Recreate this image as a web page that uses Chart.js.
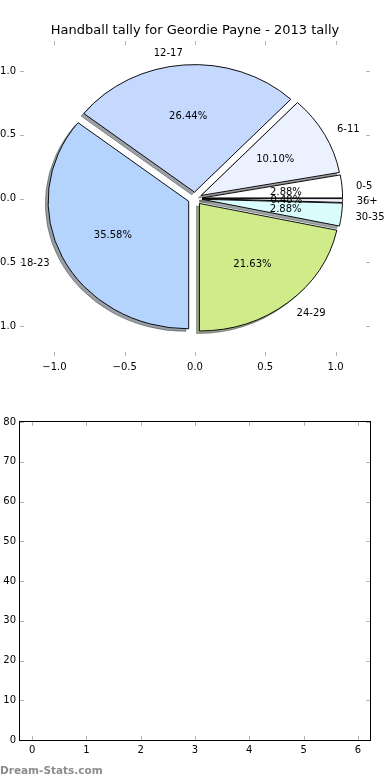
<!DOCTYPE html>
<html>
<head>
<meta charset="utf-8">
<script src="https://cdn.jsdelivr.net/npm/chart.js@4.4.0/dist/chart.umd.min.js"></script>
<style>
  html, body { margin: 0; padding: 0; background: #fff; }
  #wrap { position: relative; width: 390px; height: 780px; overflow: hidden; }
  #pieBox { position: absolute; left: 0; top: 0; width: 390px; height: 380px; }
  #emptyBox { position: absolute; left: 0; top: 380px; width: 390px; height: 400px; }
  #mark { position: absolute; left: 0; top: 764px; font: bold 10.5px "DejaVu Sans"; line-height: 12px; color: #8c8c8c; }
</style>
</head>
<body>
<div id="wrap">
  <div id="pieBox"><canvas id="pie"></canvas></div>
  <div id="emptyBox"><canvas id="empty"></canvas></div>
  <div id="mark">Dream-Stats.com</div>
</div>
<script>
// handballs per age group (matplotlib order: counter-clockwise from 3 o'clock)
const ageGroups = ['0-5', '6-11', '12-17', '18-23', '24-29', '30-35', '36+'];
const handballs = [6, 21, 55, 74, 45, 6, 1];
const sliceColors = ['#ffffff', '#ebf1fe', '#c5d9fe', '#b4d4fe', '#d0eb8a', '#d9fdfd', '#f2f2ff'];
const pieTicks = [-1.0, -0.5, 0.0, 0.5, 1.0];
const emptyXTicks = [0, 1, 2, 3, 4, 5, 6];
const emptyYTicks = [0, 10, 20, 30, 40, 50, 60, 70, 80];

const EXPLODE = 0.05, LABEL_DIST = 1.1, PCT_DIST = 0.6, SHADOW = 0.02;
const FONT = '"DejaVu Sans", sans-serif';

function shadowOf(hex) {
  const n = parseInt(hex.slice(1), 16);
  const r = (n >> 16) & 255, g = (n >> 8) & 255, b = n & 255;
  return 'rgba(' + Math.round(r * 0.3) + ',' + Math.round(g * 0.3) + ',' + Math.round(b * 0.3) + ',0.5)';
}

// pie is drawn squashed to the axes' data units, exploded, with a shadow under it
const explodedPie = {
  id: 'explodedPie',
  beforeDatasetsDraw(chart) {
    const {ctx, scales: {x, y}} = chart;
    const arcs = chart.getDatasetMeta(0).data;
    if (!arcs.length) return false;
    const R = arcs[0].outerRadius;
    const cx = x.getPixelForValue(0), cy = y.getPixelForValue(0);
    const rx = x.getPixelForValue(1) - cx, ry = cy - y.getPixelForValue(1);
    ctx.save();
    ctx.translate(cx, cy);
    ctx.scale(rx / R, ry / R);
    ctx.translate(-arcs[0].x, -arcs[0].y);
    arcs.forEach(arc => {
      const mid = (arc.startAngle + arc.endAngle) / 2;
      const sh = Object.create(arc);
      const c = shadowOf(arc.options.backgroundColor);
      sh.options = Object.assign({}, arc.options, {backgroundColor: c, borderColor: c});
      ctx.save();
      ctx.translate(Math.cos(mid) * EXPLODE * R - SHADOW * R, Math.sin(mid) * EXPLODE * R + SHADOW * R);
      sh.draw(ctx);
      ctx.restore();
    });
    arcs.forEach(arc => {
      const mid = (arc.startAngle + arc.endAngle) / 2;
      ctx.save();
      ctx.translate(Math.cos(mid) * EXPLODE * R, Math.sin(mid) * EXPLODE * R);
      arc.draw(ctx);
      ctx.restore();
    });
    ctx.restore();
    return false;
  },
  afterDraw(chart) {
    const {ctx, scales: {x, y}} = chart;
    const arcs = chart.getDatasetMeta(0).data;
    const cx = x.getPixelForValue(0), cy = y.getPixelForValue(0);
    const rx = x.getPixelForValue(1) - cx, ry = cy - y.getPixelForValue(1);
    const vals = chart.data.datasets[0].data;
    const total = vals.reduce((a, b) => a + b, 0);
    ctx.save();
    ctx.font = '10px ' + FONT;
    ctx.fillStyle = '#000';
    ctx.textBaseline = 'middle';
    arcs.forEach((arc, i) => {
      const mid = (arc.startAngle + arc.endAngle) / 2;
      const co = Math.cos(mid), si = Math.sin(mid);
      const ex = cx + EXPLODE * rx * co, ey = cy + EXPLODE * ry * si;
      const lx = ex + LABEL_DIST * rx * co, ly = ey + LABEL_DIST * ry * si;
      ctx.textAlign = lx > cx ? 'left' : 'right';
      ctx.fillText(chart.data.labels[i], lx, ly + 1);
      ctx.textAlign = 'center';
      ctx.fillText((vals[i] / total * 100).toFixed(2) + '%', ex + PCT_DIST * rx * co, ey + PCT_DIST * ry * si + 1);
    });
    ctx.restore();
  }
};

// matplotlib-style inward tick marks on all four sides, optional frame
function inwardTicks(frame) {
  return {
    id: 'inwardTicks',
    afterDraw(chart) {
      const {ctx, chartArea: a, scales: {x, y}} = chart;
      ctx.save();
      ctx.strokeStyle = '#b4b4b4';
      ctx.lineWidth = 1;
      ctx.beginPath();
      x.ticks.forEach(t => {
        const px = Math.round(x.getPixelForValue(t.value)) + 0.5;
        ctx.moveTo(px, a.top); ctx.lineTo(px, a.top + 4);
        ctx.moveTo(px, a.bottom); ctx.lineTo(px, a.bottom - 4);
      });
      y.ticks.forEach(t => {
        const py = Math.round(y.getPixelForValue(t.value)) + 0.5;
        ctx.moveTo(a.left, py); ctx.lineTo(a.left + 4, py);
        ctx.moveTo(a.right, py); ctx.lineTo(a.right - 4, py);
      });
      ctx.stroke();
      if (frame) {
        ctx.strokeStyle = '#000';
        ctx.strokeRect(Math.round(a.left) - 0.5, Math.round(a.top) - 0.5, Math.round(a.right - a.left) + 1, Math.round(a.bottom - a.top) + 1);
      }
      ctx.restore();
    }
  };
}

function axisOpts(min, max, tickVals, fmt, pad, fit) {
  return {
    type: 'linear', min: min, max: max,
    grid: {display: false, drawTicks: false},
    border: {display: false},
    ticks: {color: '#000', font: {family: FONT, size: 10}, padding: pad, callback: fmt},
    afterBuildTicks: s => { s.ticks = tickVals.map(v => ({value: v})); },
    afterFit: fit
  };
}

const piePct = v => (v < 0 ? '\u2212' : '') + Math.abs(v).toFixed(1);

new Chart(document.getElementById('pie'), {
  type: 'pie',
  data: {
    labels: ageGroups.slice().reverse(),
    datasets: [{
      data: handballs.slice().reverse(),
      backgroundColor: sliceColors.slice().reverse(),
      borderColor: '#000',
      borderWidth: 1.1,
      borderJoinStyle: 'miter',
      clip: false
    }]
  },
  options: {
    responsive: true,
    maintainAspectRatio: false,
    animation: false,
    rotation: 90,
    layout: {padding: {left: 0, right: 20, top: 0, bottom: 0}},
    plugins: {
      legend: {display: false},
      tooltip: {enabled: false},
      title: {
        display: true,
        fullSize: false,
        text: 'Handball tally for Geordie Payne - 2013 tally',
        color: '#000',
        font: {family: FONT, size: 13, weight: 'normal', lineHeight: 1.2},
        padding: {top: 22.5, bottom: 2.9}
      }
    },
    scales: {
      x: Object.assign(axisOpts(-1.245, 1.245, pieTicks, piePct, 5, s => { s.height = 24; }), {position: 'bottom'}),
      y: Object.assign(axisOpts(-1.235, 1.235, pieTicks, piePct, 4, s => { s.width = 20; }), {position: 'left'})
    }
  },
  plugins: [explodedPie, inwardTicks(false)]
});

new Chart(document.getElementById('empty'), {
  type: 'scatter',
  data: {datasets: [{data: []}]},
  options: {
    responsive: true,
    maintainAspectRatio: false,
    animation: false,
    layout: {padding: {left: 0, right: 20, top: 42, bottom: 0}},
    plugins: {legend: {display: false}, tooltip: {enabled: false}},
    scales: {
      x: Object.assign(axisOpts(-0.224, 6.224, emptyXTicks, v => String(v), 4, s => { s.height = 40; }), {position: 'bottom'}),
      y: Object.assign(axisOpts(0, 80, emptyYTicks, v => String(v), 4, s => { s.width = 20; }), {position: 'left'})
    }
  },
  plugins: [inwardTicks(true)]
});
</script>
</body>
</html>
